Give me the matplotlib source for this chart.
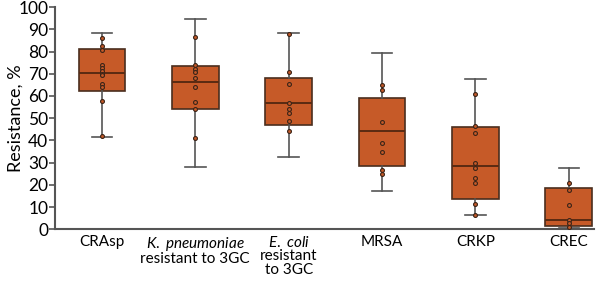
import matplotlib
matplotlib.use("Agg")
import matplotlib.pyplot as plt

plt.rcParams['font.family'] = ['Lato', 'DejaVu Sans']
plt.rcParams['mathtext.fontset'] = 'custom'
plt.rcParams['mathtext.rm'] = 'Lato'
plt.rcParams['mathtext.it'] = 'Lato:italic'

# categories
labels = ["CRAsp",
          "$\\it{K.\\ pneumoniae}$\nresistant to 3GC",
          "$\\it{E.\\ coli}$\nresistant\nto 3GC",
          "MRSA", "CRKP", "CREC"]

# box statistics
whislo = [41.7, 27.9, 32.4, 17.1, 6.6, 0.4]
q1 = [62.3, 53.9, 46.7, 28.6, 13.6, 1.4]
med = [70.3, 66.2, 56.9, 44.0, 28.5, 4.3]
q3 = [81.2, 73.6, 68.0, 59.0, 45.8, 18.6]
whishi = [88.3, 94.7, 88.4, 79.4, 67.6, 27.7]

# individual points
pts_crasp = [86.0, 82.7, 80.5, 73.9, 72.5, 71.3, 70.0, 69.2, 65.3, 63.8, 57.7, 42.0]
pts_kpn = [86.5, 74.1, 72.0, 70.9, 68.0, 64.2, 57.2, 54.2, 41.1]
pts_eco = [87.7, 70.9, 65.3, 56.9, 54.0, 52.5, 48.8, 44.1]
pts_mrsa = [64.9, 62.6, 48.2, 38.7, 34.7, 26.6, 24.8]
pts_crkp = [60.8, 46.4, 43.5, 30.0, 27.6, 23.0, 20.9, 11.5, 6.6]
pts_crec = [21.0, 17.8, 11.1, 4.3, 2.8, 0.9]
points = [pts_crasp, pts_kpn, pts_eco, pts_mrsa, pts_crkp, pts_crec]

fill = "#c65a28"
edge = "#4a2e1e"

fig = plt.figure(figsize=(6, 2.83), dpi=100)
ax = fig.add_axes([0.092, 0.19, 0.898, 0.785])

stats = []
for i in range(len(labels)):
    stats.append(dict(whislo=whislo[i], q1=q1[i], med=med[i], q3=q3[i],
                      whishi=whishi[i], fliers=[]))

ax.bxp(stats, positions=range(len(labels)), widths=0.5, patch_artist=True,
       showfliers=False,
       boxprops=dict(facecolor=fill, edgecolor=edge, linewidth=1.2),
       medianprops=dict(color="#5a2a12", linewidth=1.4),
       whiskerprops=dict(color="#555555", linewidth=1.2),
       capprops=dict(color="#555555", linewidth=1.2),
       capwidths=0.22)

for i, p in enumerate(points):
    ax.plot([i] * len(p), p, "o", ms=2.8, mfc=fill, mec="#3a2418", mew=0.8,
            zorder=5)

ax.set_ylim(0, 100)
ax.set_xlim(-0.5, 5.27)
ax.set_yticks(range(0, 101, 10))
ax.set_xticks(range(len(labels)))
ax.set_xticklabels(labels, fontsize=11, linespacing=0.95)
ax.tick_params(axis="x", length=0, pad=4)
ax.tick_params(axis="y", length=4, width=1.2, color="#555555", labelsize=12.5, pad=1)
ax.set_ylabel("Resistance, %", fontsize=13)
ax.yaxis.set_label_coords(-0.058, 0.5)

for s in ["top", "right"]:
    ax.spines[s].set_visible(False)
for s in ["left", "bottom"]:
    ax.spines[s].set_color("#555555")
    ax.spines[s].set_linewidth(1.5)

fig.savefig("out.png", dpi=100)
